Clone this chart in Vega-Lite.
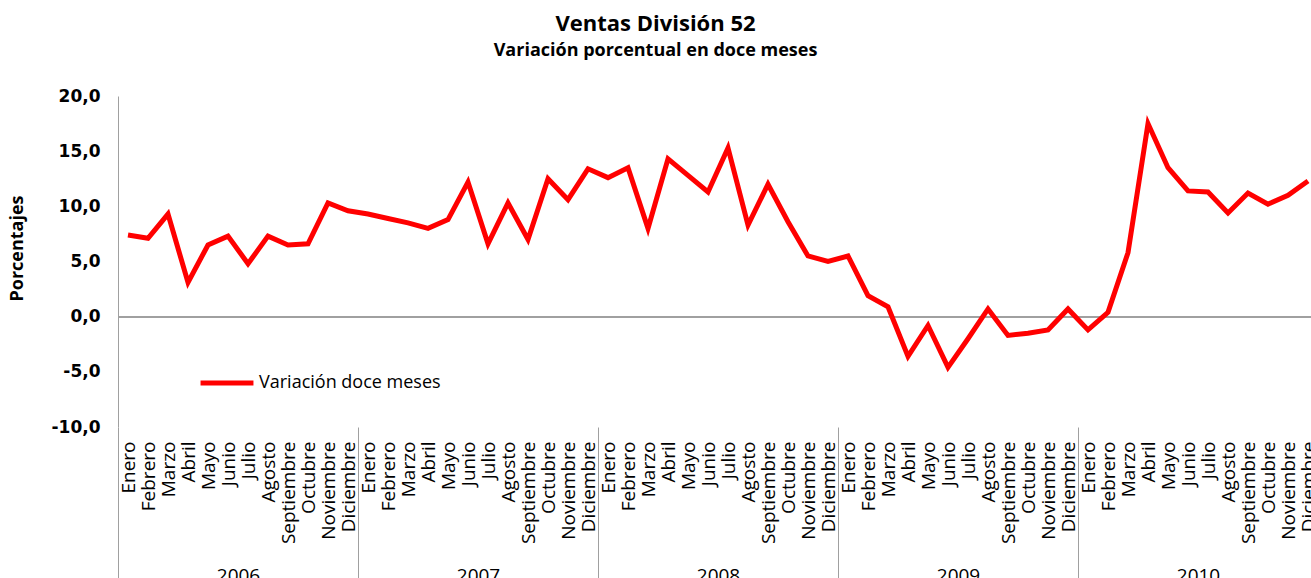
{
  "$schema": "https://vega.github.io/schema/vega-lite/v6.json",
  "autosize": {"type": "none"},
  "padding": {"left": 118, "top": 96, "right": 0, "bottom": 151},
  "width": 1193,
  "height": 331,
  "background": "white",
  "config": {
    "view": {"stroke": null},
    "font": "Open Sans",
    "axis": {"labelFont": "Open Sans", "titleFont": "Open Sans", "labelColor": "#000000", "titleColor": "#000000"}
  },
  "title": {
    "text": "Ventas División 52",
    "subtitle": "Variación  porcentual en doce meses",
    "anchor": "middle",
    "frame": "group",
    "dx": -59,
    "offset": 26,
    "font": "Open Sans",
    "fontSize": 22,
    "fontWeight": "bold",
    "color": "#000000",
    "subtitleFont": "Open Sans",
    "subtitleFontSize": 18,
    "subtitleFontWeight": "bold",
    "subtitleColor": "#000000",
    "subtitlePadding": 6
  },
  "data": {
    "values": [
      {"idx": 1, "anio": 2006, "mes": "Enero", "valor": 7.4, "serie": "Variación doce meses"},
      {"idx": 2, "anio": 2006, "mes": "Febrero", "valor": 7.1, "serie": "Variación doce meses"},
      {"idx": 3, "anio": 2006, "mes": "Marzo", "valor": 9.3, "serie": "Variación doce meses"},
      {"idx": 4, "anio": 2006, "mes": "Abril", "valor": 3.1, "serie": "Variación doce meses"},
      {"idx": 5, "anio": 2006, "mes": "Mayo", "valor": 6.5, "serie": "Variación doce meses"},
      {"idx": 6, "anio": 2006, "mes": "Junio", "valor": 7.3, "serie": "Variación doce meses"},
      {"idx": 7, "anio": 2006, "mes": "Julio", "valor": 4.8, "serie": "Variación doce meses"},
      {"idx": 8, "anio": 2006, "mes": "Agosto", "valor": 7.3, "serie": "Variación doce meses"},
      {"idx": 9, "anio": 2006, "mes": "Septiembre", "valor": 6.5, "serie": "Variación doce meses"},
      {"idx": 10, "anio": 2006, "mes": "Octubre", "valor": 6.6, "serie": "Variación doce meses"},
      {"idx": 11, "anio": 2006, "mes": "Noviembre", "valor": 10.3, "serie": "Variación doce meses"},
      {"idx": 12, "anio": 2006, "mes": "Diciembre", "valor": 9.6, "serie": "Variación doce meses"},
      {"idx": 13, "anio": 2007, "mes": "Enero", "valor": 9.3, "serie": "Variación doce meses"},
      {"idx": 14, "anio": 2007, "mes": "Febrero", "valor": 8.9, "serie": "Variación doce meses"},
      {"idx": 15, "anio": 2007, "mes": "Marzo", "valor": 8.5, "serie": "Variación doce meses"},
      {"idx": 16, "anio": 2007, "mes": "Abril", "valor": 8.0, "serie": "Variación doce meses"},
      {"idx": 17, "anio": 2007, "mes": "Mayo", "valor": 8.8, "serie": "Variación doce meses"},
      {"idx": 18, "anio": 2007, "mes": "Junio", "valor": 12.2, "serie": "Variación doce meses"},
      {"idx": 19, "anio": 2007, "mes": "Julio", "valor": 6.6, "serie": "Variación doce meses"},
      {"idx": 20, "anio": 2007, "mes": "Agosto", "valor": 10.3, "serie": "Variación doce meses"},
      {"idx": 21, "anio": 2007, "mes": "Septiembre", "valor": 7.0, "serie": "Variación doce meses"},
      {"idx": 22, "anio": 2007, "mes": "Octubre", "valor": 12.5, "serie": "Variación doce meses"},
      {"idx": 23, "anio": 2007, "mes": "Noviembre", "valor": 10.6, "serie": "Variación doce meses"},
      {"idx": 24, "anio": 2007, "mes": "Diciembre", "valor": 13.4, "serie": "Variación doce meses"},
      {"idx": 25, "anio": 2008, "mes": "Enero", "valor": 12.6, "serie": "Variación doce meses"},
      {"idx": 26, "anio": 2008, "mes": "Febrero", "valor": 13.5, "serie": "Variación doce meses"},
      {"idx": 27, "anio": 2008, "mes": "Marzo", "valor": 8.0, "serie": "Variación doce meses"},
      {"idx": 28, "anio": 2008, "mes": "Abril", "valor": 14.3, "serie": "Variación doce meses"},
      {"idx": 29, "anio": 2008, "mes": "Mayo", "valor": 12.8, "serie": "Variación doce meses"},
      {"idx": 30, "anio": 2008, "mes": "Junio", "valor": 11.3, "serie": "Variación doce meses"},
      {"idx": 31, "anio": 2008, "mes": "Julio", "valor": 15.3, "serie": "Variación doce meses"},
      {"idx": 32, "anio": 2008, "mes": "Agosto", "valor": 8.3, "serie": "Variación doce meses"},
      {"idx": 33, "anio": 2008, "mes": "Septiembre", "valor": 12.0, "serie": "Variación doce meses"},
      {"idx": 34, "anio": 2008, "mes": "Octubre", "valor": 8.6, "serie": "Variación doce meses"},
      {"idx": 35, "anio": 2008, "mes": "Noviembre", "valor": 5.5, "serie": "Variación doce meses"},
      {"idx": 36, "anio": 2008, "mes": "Diciembre", "valor": 5.0, "serie": "Variación doce meses"},
      {"idx": 37, "anio": 2009, "mes": "Enero", "valor": 5.5, "serie": "Variación doce meses"},
      {"idx": 38, "anio": 2009, "mes": "Febrero", "valor": 1.9, "serie": "Variación doce meses"},
      {"idx": 39, "anio": 2009, "mes": "Marzo", "valor": 0.9, "serie": "Variación doce meses"},
      {"idx": 40, "anio": 2009, "mes": "Abril", "valor": -3.6, "serie": "Variación doce meses"},
      {"idx": 41, "anio": 2009, "mes": "Mayo", "valor": -0.8, "serie": "Variación doce meses"},
      {"idx": 42, "anio": 2009, "mes": "Junio", "valor": -4.6, "serie": "Variación doce meses"},
      {"idx": 43, "anio": 2009, "mes": "Julio", "valor": -2.0, "serie": "Variación doce meses"},
      {"idx": 44, "anio": 2009, "mes": "Agosto", "valor": 0.7, "serie": "Variación doce meses"},
      {"idx": 45, "anio": 2009, "mes": "Septiembre", "valor": -1.7, "serie": "Variación doce meses"},
      {"idx": 46, "anio": 2009, "mes": "Octubre", "valor": -1.5, "serie": "Variación doce meses"},
      {"idx": 47, "anio": 2009, "mes": "Noviembre", "valor": -1.2, "serie": "Variación doce meses"},
      {"idx": 48, "anio": 2009, "mes": "Diciembre", "valor": 0.7, "serie": "Variación doce meses"},
      {"idx": 49, "anio": 2010, "mes": "Enero", "valor": -1.2, "serie": "Variación doce meses"},
      {"idx": 50, "anio": 2010, "mes": "Febrero", "valor": 0.4, "serie": "Variación doce meses"},
      {"idx": 51, "anio": 2010, "mes": "Marzo", "valor": 5.8, "serie": "Variación doce meses"},
      {"idx": 52, "anio": 2010, "mes": "Abril", "valor": 17.5, "serie": "Variación doce meses"},
      {"idx": 53, "anio": 2010, "mes": "Mayo", "valor": 13.5, "serie": "Variación doce meses"},
      {"idx": 54, "anio": 2010, "mes": "Junio", "valor": 11.4, "serie": "Variación doce meses"},
      {"idx": 55, "anio": 2010, "mes": "Julio", "valor": 11.3, "serie": "Variación doce meses"},
      {"idx": 56, "anio": 2010, "mes": "Agosto", "valor": 9.4, "serie": "Variación doce meses"},
      {"idx": 57, "anio": 2010, "mes": "Septiembre", "valor": 11.2, "serie": "Variación doce meses"},
      {"idx": 58, "anio": 2010, "mes": "Octubre", "valor": 10.2, "serie": "Variación doce meses"},
      {"idx": 59, "anio": 2010, "mes": "Noviembre", "valor": 11.0, "serie": "Variación doce meses"},
      {"idx": 60, "anio": 2010, "mes": "Diciembre", "valor": 12.3, "serie": "Variación doce meses"}
    ]
  },
  "layer": [
    {
      "mark": {"type": "rule", "color": "#A0A0A0", "strokeWidth": 1.5},
      "encoding": {
        "y": {"datum": 0, "type": "quantitative", "scale": {"domain": [-10, 20], "nice": false, "zero": false}}
      }
    },
    {
      "mark": {"type": "line", "strokeWidth": 5},
      "encoding": {
        "x": {
          "field": "idx",
          "type": "quantitative",
          "scale": {"domain": [0.5, 60.15], "nice": false, "zero": false},
          "axis": {
            "orient": "bottom",
            "title": null,
            "domain": false,
            "grid": false,
            "values": [0.5, 12.5, 24.5, 36.5, 48.5, 60.5, 1, 2, 3, 4, 5, 6, 7, 8, 9, 10, 11, 12, 13, 14, 15, 16, 17, 18, 19, 20, 21, 22, 23, 24, 25, 26, 27, 28, 29, 30, 31, 32, 33, 34, 35, 36, 37, 38, 39, 40, 41, 42, 43, 44, 45, 46, 47, 48, 49, 50, 51, 52, 53, 54, 55, 56, 57, 58, 59, 60],
            "labelExpr": "datum.value % 1 == 0 ? ['Enero','Febrero','Marzo','Abril','Mayo','Junio','Julio','Agosto','Septiembre','Octubre','Noviembre','Diciembre'][(datum.value - 1) % 12] : ''",
            "labelAngle": -90,
            "labelAlign": "right",
            "labelBaseline": "middle",
            "labelFont": "Open Sans",
            "labelFontSize": 19,
            "labelPadding": 14,
            "labelOverlap": false,
            "labelFlush": false,
            "labelBound": false,
            "labelLimit": 0,
            "ticks": true,
            "tickColor": "#A0A0A0",
            "tickWidth": 1,
            "tickSize": {"condition": {"test": "datum.value % 1 != 0", "value": 151}, "value": 0}
          }
        },
        "y": {
          "field": "valor",
          "type": "quantitative",
          "scale": {"domain": [-10, 20], "nice": false, "zero": false},
          "axis": {
            "title": "Porcentajes",
            "titleFontSize": 18,
            "titleFontWeight": "bold",
            "titleX": -101,
            "titleY": 152,
            "titleAngle": -90,
            "titleAlign": "center",
            "titleBaseline": "middle",
            "values": [-10, -5, 0, 5, 10, 15, 20],
            "labelExpr": "replace(replace(format(datum.value, '.1f'), '.', ','), '\u2212', '-')",
            "labelFont": "DejaVu Sans",
            "labelFontSize": 17,
            "labelFontWeight": "bold",
            "labelPadding": 18,
            "ticks": false,
            "grid": false,
            "domainColor": "#A0A0A0",
            "domainWidth": 1
          }
        },
        "color": {
          "field": "serie",
          "type": "nominal",
          "scale": {"range": ["#FF0000"]},
          "legend": {
            "title": null,
            "orient": "none",
            "legendX": 80,
            "legendY": 258,
            "symbolType": "stroke",
            "symbolSize": 2800,
            "symbolStrokeWidth": 5,
            "labelFontSize": 18,
            "labelFont": "Open Sans",
            "labelColor": "#000000",
            "labelOffset": 3,
            "labelLimit": 0,
            "padding": 0
          }
        }
      }
    },
    {
      "mark": {"type": "point", "opacity": 0},
      "encoding": {
        "x": {
          "field": "idx",
          "type": "quantitative",
          "scale": {"domain": [0.5, 60.15], "nice": false, "zero": false},
          "axis": {
            "orient": "bottom",
            "title": null,
            "domain": false,
            "grid": false,
            "ticks": false,
            "values": [6.5, 18.5, 30.5, 42.5, 54.5],
            "labelExpr": "'' + (2006 + floor(datum.value / 12))",
            "labelAngle": 0,
            "labelFontSize": 19,
            "labelBaseline": "top",
            "labelPadding": 139
          }
        },
        "y": {"field": "valor", "type": "quantitative"}
      }
    }
  ],
  "resolve": {"scale": {"x": "independent"}}
}
